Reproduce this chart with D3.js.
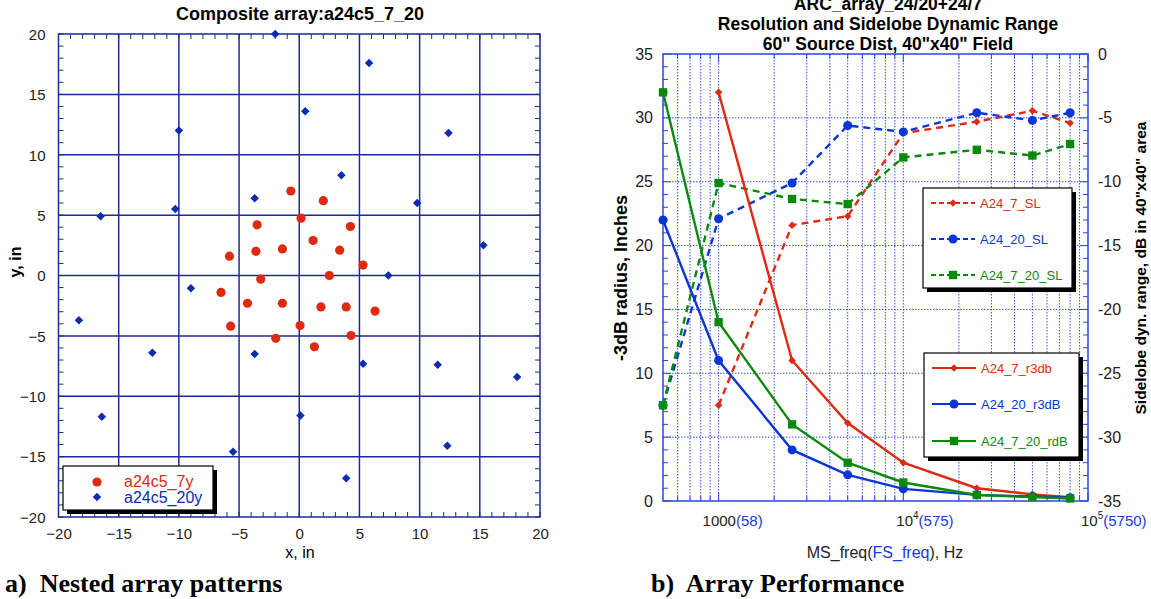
<!DOCTYPE html>
<html>
<head>
<meta charset="utf-8">
<script src="https://cdn.jsdelivr.net/npm/d3@7"></script>
<style>
  body { margin: 0; background: #fff; }
  svg { display: block; font-family: Arial, "Liberation Sans", sans-serif; }
  .cap { white-space: pre; }
</style>
</head>
<body>
<div id="chart"></div>
<script>
// ---- left panel: array element positions (inches) ----
const a24c5_7y_x = [-0.7, -3.5, -3.6, -1.4, -5.8, -3.2, 2.0, 0.15, 4.25, 1.15, 3.36, 5.3,
                    2.5, -6.5, -4.3, -1.4, -5.7, -1.95, 0.07, 1.8, 3.9, 6.3, 4.3, 1.26];
const a24c5_7y_y = [7.0, 4.2, 2.0, 2.2, 1.6, -0.3, 6.2, 4.75, 4.06, 2.9, 2.1, 0.86,
                    0.0, -1.4, -2.3, -2.3, -4.2, -5.2, -4.14, -2.6, -2.6, -2.95, -4.97, -5.9];
const a24c5_20y_x = [-2, -10, -3.7, -10.3, -16.5, 5.8, 0.5, 12.4, 3.5, 9.8, 15.3, 7.4,
                     -9, -18.3, -12.2, -3.7, -16.4, -5.5, 0.1, 5.3, 11.5, 18.1, 12.3, 3.9];
const a24c5_20y_y = [20, 12, 6.4, 5.5, 4.9, 17.6, 13.6, 11.8, 8.3, 6.0, 2.5, 0.0,
                     -1.05, -3.7, -6.4, -6.5, -11.7, -14.6, -11.6, -7.3, -7.4, -8.4, -14.1, -16.8];
const scatterTicks = [-20, -15, -10, -5, 0, 5, 10, 15, 20];

// ---- right panel: performance vs frequency ----
const freq = [500, 1000, 2500, 5000, 10000, 25000, 50000, 80000];
const A24_7_r3db   = [null, 32, 11.0, 6.1, 3.0, 1.0, 0.52, 0.3];
const A24_20_r3dB  = [22, 11.0, 4.0, 2.05, 0.95, 0.48, 0.35, 0.25];
const A24_7_20_rdB = [32, 14.0, 6.0, 3.0, 1.45, 0.47, 0.31, 0.2];
const A24_7_SL     = [null, -27.5, -13.4, -12.7, -6.2, -5.3, -4.45, -5.4];
const A24_20_SL    = [-27.5, -12.9, -10.1, -5.6, -6.1, -4.6, -5.2, -4.6];
const A24_7_20_SL  = [-27.5, -10.1, -11.35, -11.75, -8.1, -7.5, -7.95, -7.05];
const leftTicks = [0, 5, 10, 15, 20, 25, 30, 35];
const rightTicks = [0, -5, -10, -15, -20, -25, -30, -35];
const freqLabels = [[1000, "1000", "", "(58)"], [10000, "10", "4", "(575)"], [100000, "10", "5", "(5750)"]];

const W = 1151, H = 599;
const RED = "#dd2a10", BLUE = "#0b35d8", GREEN = "#0a8a0a", NAVY = "#1c2a9c";

const svg = d3.select("#chart").append("svg").attr("width", W).attr("height", H);

// ================= left panel =================
const x1 = d3.scaleLinear().domain([-20, 20]).range([58.5, 540]);
const y1 = d3.scaleLinear().domain([-20, 20]).range([517, 34]);
const g1 = svg.append("g");

// grid
g1.append("g").selectAll("line").data(scatterTicks.slice(1, -1)).enter().append("line")
  .attr("x1", d => x1(d)).attr("x2", d => x1(d)).attr("y1", y1(20)).attr("y2", y1(-20))
  .attr("stroke", NAVY).attr("stroke-width", 1.5);
g1.append("g").selectAll("line").data(scatterTicks.slice(1, -1)).enter().append("line")
  .attr("y1", d => y1(d)).attr("y2", d => y1(d)).attr("x1", x1(-20)).attr("x2", x1(20))
  .attr("stroke", NAVY).attr("stroke-width", 1.5);

// minor ticks, inward on all sides
const minor1 = d3.range(-20, 21, 1);
const tk = g1.append("g").attr("stroke", NAVY).attr("stroke-width", 1);
minor1.forEach(v => {
  const L = 5;
  tk.append("line").attr("x1", x1(v)).attr("x2", x1(v)).attr("y1", y1(-20)).attr("y2", y1(-20) - L);
  tk.append("line").attr("x1", x1(v)).attr("x2", x1(v)).attr("y1", y1(20)).attr("y2", y1(20) + L);
  tk.append("line").attr("y1", y1(v)).attr("y2", y1(v)).attr("x1", x1(-20)).attr("x2", x1(-20) + L);
  tk.append("line").attr("y1", y1(v)).attr("y2", y1(v)).attr("x1", x1(20)).attr("x2", x1(20) - L);
});
g1.append("rect").attr("x", x1(-20)).attr("y", y1(20))
  .attr("width", x1(20) - x1(-20)).attr("height", y1(-20) - y1(20))
  .attr("fill", "none").attr("stroke", NAVY).attr("stroke-width", 1.5);

// tick labels via axes
const ax1 = g1.append("g").attr("transform", `translate(0,${y1(-20)})`)
  .call(d3.axisBottom(x1).tickValues(scatterTicks).tickSize(0).tickPadding(11).tickFormat(d3.format("d")));
const ay1 = g1.append("g").attr("transform", `translate(${x1(-20)},0)`)
  .call(d3.axisLeft(y1).tickValues(scatterTicks).tickSize(0).tickPadding(13).tickFormat(d3.format("d")));
[ax1, ay1].forEach(a => {
  a.select(".domain").remove();
  a.selectAll("text").attr("font-size", 15).attr("fill", "#222").attr("font-family", "Arial, 'Liberation Sans', sans-serif");
});
ay1.selectAll("text").attr("dy", "0.35em");

// points
const redPts = a24c5_7y_x.map((v, i) => [v, a24c5_7y_y[i]]);
const bluePts = a24c5_20y_x.map((v, i) => [v, a24c5_20y_y[i]]);
g1.append("g").selectAll("circle").data(redPts).enter().append("circle")
  .attr("cx", d => x1(d[0])).attr("cy", d => y1(d[1])).attr("r", 4.6).attr("fill", RED);
const diamond = d3.symbol().type(d3.symbolDiamond2).size(46);
g1.append("g").selectAll("path").data(bluePts).enter().append("path")
  .attr("d", diamond).attr("transform", d => `translate(${x1(d[0])},${y1(d[1])})`)
  .attr("fill", "#0b2bb0");

// titles
g1.append("text").attr("x", 300).attr("y", 20).attr("text-anchor", "middle")
  .attr("font-size", 18).attr("font-weight", "bold").text("Composite array:a24c5_7_20");
g1.append("text").attr("x", 300).attr("y", 558).attr("text-anchor", "middle")
  .attr("font-size", 16).text("x, in");
g1.append("text").attr("transform", "translate(21,262) rotate(-90)").attr("text-anchor", "middle")
  .attr("font-size", 16).attr("font-weight", "bold").text("y, in");

// legend
function legendBox(g, x, y, w, h) {
  g.append("rect").attr("x", x + 4).attr("y", y + 4).attr("width", w).attr("height", h).attr("fill", "#000");
  g.append("rect").attr("x", x).attr("y", y).attr("width", w).attr("height", h)
    .attr("fill", "#fff").attr("stroke", "#000").attr("stroke-width", 1.2);
}
const lg1 = g1.append("g");
legendBox(lg1, 63, 466, 150, 44);
lg1.append("circle").attr("cx", 97).attr("cy", 482).attr("r", 4.6).attr("fill", RED);
lg1.append("path").attr("d", diamond).attr("transform", "translate(97,497)").attr("fill", "#0b2bb0");
lg1.append("text").attr("x", 124).attr("y", 487).attr("font-size", 16).attr("fill", RED).text("a24c5_7y");
lg1.append("text").attr("x", 124).attr("y", 503).attr("font-size", 16).attr("fill", "#0b2bb0").text("a24c5_20y");

svg.append("text").attr("class", "cap").attr("x", 5).attr("y", 592).attr("font-family", "'Liberation Serif', 'Times New Roman', serif")
  .attr("font-weight", "bold").attr("font-size", 26).text("a)  Nested array patterns");

// ================= right panel =================
const x2 = d3.scaleLog().domain([500, 100000]).range([663, 1088]);
const yL = d3.scaleLinear().domain([0, 35]).range([501, 54]);
const yR = d3.scaleLinear().domain([-35, 0]).range([501, 54]);
const g2 = svg.append("g");
const FRAME = "#2a46e0";

// log grid positions
const logPos = [];
[100, 1000, 10000].forEach(dec => { for (let k = 1; k <= 9; k++) { const v = dec * k; if (v > 500 && v < 100000) logPos.push(v); } });

g2.append("g").selectAll("line").data(logPos).enter().append("line")
  .attr("x1", d => x2(d)).attr("x2", d => x2(d)).attr("y1", yL(35)).attr("y2", yL(0))
  .attr("stroke", "#3a55e8").attr("stroke-width", 1).attr("stroke-dasharray", "1.5,1.5");
g2.append("g").selectAll("line").data(leftTicks.slice(1, -1)).enter().append("line")
  .attr("y1", d => yL(d)).attr("y2", d => yL(d)).attr("x1", x2(500)).attr("x2", x2(100000))
  .attr("stroke", "#3a55e8").attr("stroke-width", 1).attr("stroke-dasharray", "1.5,1.5");

// ticks
const tk2 = g2.append("g").attr("stroke", FRAME).attr("stroke-width", 1);
logPos.concat([100000]).forEach(v => {
  const L = [1000, 10000, 100000].includes(v) ? 8 : 5;
  tk2.append("line").attr("x1", x2(v)).attr("x2", x2(v)).attr("y1", yL(0)).attr("y2", yL(0) - L);
  tk2.append("line").attr("x1", x2(v)).attr("x2", x2(v)).attr("y1", yL(35)).attr("y2", yL(35) + L);
});
d3.range(0, 36, 1).forEach(v => {
  const L = v % 5 === 0 ? 8 : 5;
  tk2.append("line").attr("y1", yL(v)).attr("y2", yL(v)).attr("x1", x2(500)).attr("x2", x2(500) + L);
  tk2.append("line").attr("y1", yR(-v)).attr("y2", yR(-v)).attr("x1", x2(100000)).attr("x2", x2(100000) - L);
});
g2.append("rect").attr("x", x2(500)).attr("y", yL(35))
  .attr("width", x2(100000) - x2(500)).attr("height", yL(0) - yL(35))
  .attr("fill", "none").attr("stroke", FRAME).attr("stroke-width", 1.5);

// y tick labels
const ayL = g2.append("g").attr("transform", `translate(${x2(500)},0)`)
  .call(d3.axisLeft(yL).tickValues(leftTicks).tickSize(0).tickPadding(10).tickFormat(d3.format("d")));
const ayR = g2.append("g").attr("transform", `translate(${x2(100000)},0)`)
  .call(d3.axisRight(yR).tickValues(rightTicks).tickSize(0).tickPadding(10).tickFormat(d => d3.format("d")(d).replace("−", "-")));
[ayL, ayR].forEach(a => {
  a.select(".domain").remove();
  a.selectAll("text").attr("font-size", 16).attr("fill", "#222").attr("font-family", "Arial, 'Liberation Sans', sans-serif");
});

// x tick labels: base number centred on the tick, FS value in blue after it
freqLabels.forEach(([v, base, sup, fs]) => {
  const t = g2.append("text").attr("x", x2(v) - (sup ? 7 : 16)).attr("y", 526).attr("font-size", 15);
  t.append("tspan").attr("fill", "#222").text(base);
  if (sup) t.append("tspan").attr("fill", "#222").attr("font-size", 10).attr("dy", -7).text(sup);
  t.append("tspan").attr("fill", "#1a3ae0").attr("dy", sup ? 7 : 0).text(fs);
});
const xt = g2.append("text").attr("x", 885).attr("y", 558).attr("text-anchor", "middle").attr("font-size", 16);
xt.append("tspan").attr("fill", "#222").text("MS_freq(");
xt.append("tspan").attr("fill", "#1a3ae0").text("FS_freq");
xt.append("tspan").attr("fill", "#222").text("), Hz");

g2.append("text").attr("transform", "translate(627,278) rotate(-90)").attr("text-anchor", "middle")
  .attr("font-size", 18).attr("font-weight", "bold").text("-3dB radius, Inches");
g2.append("text").attr("transform", "translate(1146,268) rotate(-90)").attr("text-anchor", "middle")
  .attr("font-size", 15.5).attr("font-weight", "bold").text("Sidelobe dyn. range, dB in 40\"x40\" area");

// title
["ARC_array_24/20+24/7", "Resolution and Sidelobe Dynamic Range", "60\" Source Dist, 40\"x40\" Field"]
  .forEach((s, i) => g2.append("text").attr("x", 888).attr("y", 10 + i * 20).attr("text-anchor", "middle")
    .attr("font-size", 17.5).attr("font-weight", "bold").text(s));

// series
const markers = {
  diamond: d3.symbol().type(d3.symbolDiamond2).size(36),
  circle: d3.symbol().type(d3.symbolCircle).size(64),
  square: d3.symbol().type(d3.symbolSquare).size(70)
};
const series = [
  { name: "A24_7_SL", vals: A24_7_SL, y: yR, color: RED, dash: "7,5", mk: "diamond" },
  { name: "A24_20_SL", vals: A24_20_SL, y: yR, color: BLUE, dash: "7,5", mk: "circle" },
  { name: "A24_7_20_SL", vals: A24_7_20_SL, y: yR, color: GREEN, dash: "7,5", mk: "square" },
  { name: "A24_7_r3db", vals: A24_7_r3db, y: yL, color: RED, dash: null, mk: "diamond" },
  { name: "A24_20_r3dB", vals: A24_20_r3dB, y: yL, color: BLUE, dash: null, mk: "circle" },
  { name: "A24_7_20_rdB", vals: A24_7_20_rdB, y: yL, color: GREEN, dash: null, mk: "square" }
];
series.forEach(s => {
  const pts = freq.map((f, i) => [f, s.vals[i]]).filter(d => d[1] !== null);
  const line = d3.line().x(d => x2(d[0])).y(d => s.y(d[1]));
  g2.append("path").datum(pts).attr("d", line).attr("fill", "none")
    .attr("stroke", s.color).attr("stroke-width", 2.4).attr("stroke-dasharray", s.dash);
  g2.append("g").selectAll("path").data(pts).enter().append("path")
    .attr("d", markers[s.mk]).attr("transform", d => `translate(${x2(d[0])},${s.y(d[1])})`)
    .attr("fill", s.color);
});

// legends
function seriesLegend(items, bx, by, bw, bh, rows) {
  const g = g2.append("g");
  legendBox(g, bx, by, bw, bh);
  items.forEach((s, i) => {
    const yy = rows[i];
    g.append("line").attr("x1", bx + 8).attr("x2", bx + 52).attr("y1", yy).attr("y2", yy)
      .attr("stroke", s.color).attr("stroke-width", 2.2).attr("stroke-dasharray", s.dash ? "5,3" : null);
    g.append("path").attr("d", markers[s.mk]).attr("transform", `translate(${bx + 30},${yy})`).attr("fill", s.color);
    g.append("text").attr("x", bx + 57).attr("y", yy + 5).attr("font-size", 13).attr("fill", s.color).text(s.name);
  });
}
seriesLegend(series.slice(0, 3), 923, 188, 149, 100, [203, 239, 275]);
seriesLegend(series.slice(3), 924, 353, 155, 104, [368, 404, 441]);

svg.append("text").attr("class", "cap").attr("x", 651).attr("y", 592).attr("font-family", "'Liberation Serif', 'Times New Roman', serif")
  .attr("font-weight", "bold").attr("font-size", 26).text("b)  Array Performance");
</script>
</body>
</html>
